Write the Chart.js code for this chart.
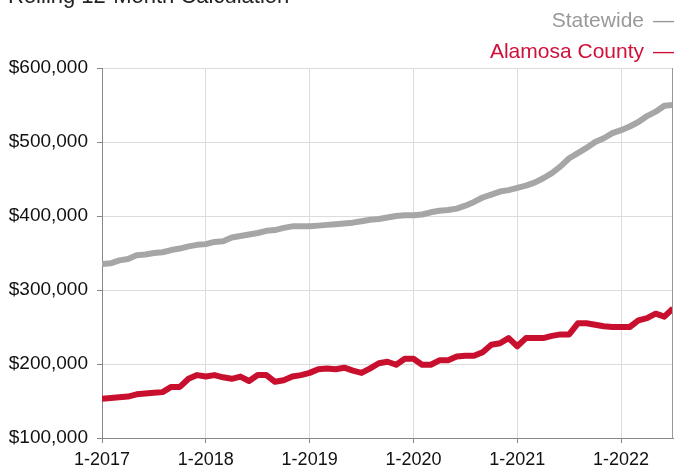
<!DOCTYPE html>
<html>
<head>
<meta charset="utf-8">
<script src="https://cdn.jsdelivr.net/npm/chart.js@4/dist/chart.umd.min.js"></script>
<style>
  html, body { margin: 0; padding: 0; background: #fff; overflow: hidden; }
  #wrap { position: relative; width: 674px; height: 470px; font-family: "Liberation Sans", Arial, sans-serif; }
  #title { position: absolute; left: 8px; top: -17px; font-size: 22px; color: #222; white-space: nowrap; }
  .leg { position: absolute; right: 0; font-size: 21px; white-space: nowrap; }
  .leg .dash { margin-left: 9px; }
  canvas { position: absolute; left: 0; top: 0; }
</style>
</head>
<body>
<div id="wrap">
  <canvas id="chart" width="674" height="470"></canvas>
  <div id="title">Rolling 12-Month Calculation</div>
  <div class="leg" id="leg1" style="top:8px;color:#999;">Statewide<span class="dash">—</span></div>
  <div class="leg" id="leg2" style="top:39px;color:#d0103a;">Alamosa County<span class="dash">—</span></div>
</div>
<script>
// monthly values, 1-2017 through 7-2022
const yearLabels = ['1-2017', '1-2018', '1-2019', '1-2020', '1-2021', '1-2022'];

const statewide = [
  335000, 336000, 340000, 342000, 347000, 348000, 350000, 351000, 354000, 356000, 359000, 361000,
  362000, 365000, 366000, 371000, 373000, 375000, 377000, 380000, 381000, 384000, 386000, 386000,
  386000, 387000, 388000, 389000, 390000, 391000, 393000, 395000, 396000, 398000, 400000, 401000,
  401000, 402000, 405000, 407000, 408000, 410000, 414000, 419000, 425000, 429000, 433000, 435000,
  438000, 441000, 445000, 451000, 458000, 467000, 478000, 485000, 492000, 500000, 505000, 512000,
  516000, 521000, 527000, 535000, 541000, 549000, 550000
];

const alamosa = [
  153000, 154000, 155000, 156000, 159000, 160000, 161000, 162000, 169000, 169000, 180000, 185000,
  183000, 185000, 182000, 180000, 183000, 177000, 185000, 185000, 176000, 178000, 183000, 185000,
  188000, 193000, 194000, 193000, 195000, 191000, 188000, 194000, 201000, 203000, 199000, 207000,
  207000, 199000, 199000, 205000, 205000, 210000, 211000, 211000, 216000, 226000, 228000, 235000,
  224000, 235000, 235000, 235000, 238000, 240000, 240000, 255000, 255000, 253000, 251000, 250000,
  250000, 250000, 259000, 262000, 268000, 264000, 275000
];

const toPoints = arr => arr.map((v, i) => ({ x: i, y: v }));

// right edge line of the plot area
const frameRight = {
  id: 'frameRight',
  afterDraw(chart) {
    const { ctx, chartArea } = chart;
    ctx.save();
    ctx.strokeStyle = '#999';
    ctx.lineWidth = 1;
    ctx.beginPath();
    ctx.moveTo(chartArea.right - 0.5, chartArea.top);
    ctx.lineTo(chartArea.right - 0.5, chartArea.bottom);
    ctx.stroke();
    ctx.restore();
  }
};

new Chart(document.getElementById('chart').getContext('2d'), {
  type: 'line',
  data: {
    datasets: [
      { label: 'Statewide', data: toPoints(statewide), borderColor: '#a6a6a6', borderWidth: 6, pointRadius: 0, borderJoinStyle: 'round' },
      { label: 'Alamosa County', data: toPoints(alamosa), borderColor: '#c8102e', borderWidth: 6, pointRadius: 0, borderJoinStyle: 'round' }
    ]
  },
  options: {
    responsive: false,
    animation: false,
    layout: { padding: { top: 68, right: 1, left: 0, bottom: 0 } },
    plugins: { legend: { display: false }, tooltip: { enabled: false } },
    scales: {
      x: {
        type: 'linear',
        min: 0,
        max: statewide.length - 1,
        afterFit: s => { s.height = 32; },
        afterBuildTicks: s => { s.ticks = s.ticks.filter(t => t.value % 12 === 0); },
        ticks: {
          stepSize: 12,
          autoSkip: false,
          maxRotation: 0,
          padding: 6,
          color: '#111',
          font: { family: '"Liberation Sans", Arial, sans-serif', size: 18 },
          callback: v => yearLabels[v / 12]
        },
        grid: { color: '#dcdcdc', tickColor: '#888', tickLength: 5 },
        border: { color: '#888' }
      },
      y: {
        min: 100000,
        max: 600000,
        afterFit: s => { s.width = 102; },
        ticks: {
          stepSize: 100000,
          padding: 9,
          color: '#111',
          font: { family: '"Liberation Sans", Arial, sans-serif', size: 19 },
          callback: v => '$' + v.toLocaleString('en-US')
        },
        grid: { color: '#dcdcdc', tickColor: '#888', tickLength: 5 },
        border: { color: '#888' }
      }
    }
  },
  plugins: [frameRight]
});
</script>
</body>
</html>
